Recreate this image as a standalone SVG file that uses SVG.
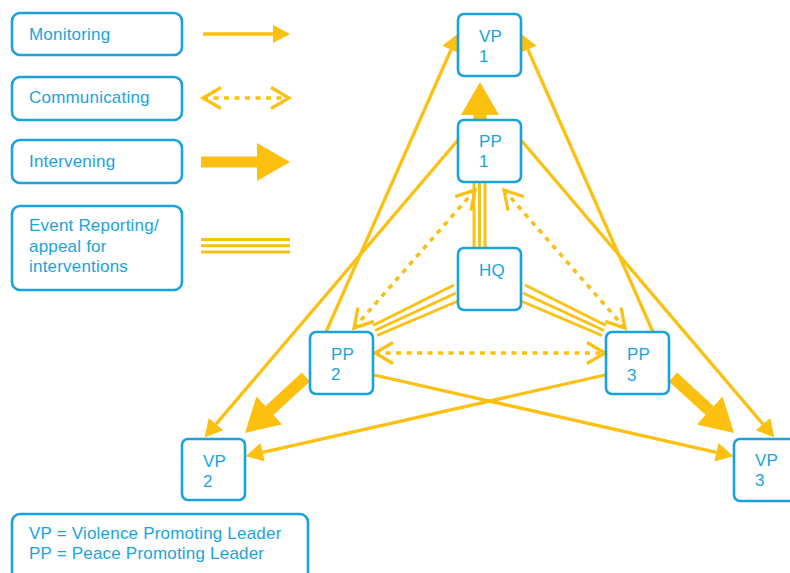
<svg xmlns="http://www.w3.org/2000/svg" width="790" height="573" viewBox="0 0 790 573">
<style>
  .box{fill:#fff;stroke:#18a2de;stroke-width:2.6}
  .lbl{font-family:"Liberation Sans",Arial,Helvetica,sans-serif;font-size:17px;fill:#1aa4df;letter-spacing:0.2px}
  .mon{fill:none;stroke:#fcc011;stroke-width:3.3}
  .com{fill:none;stroke:#fcc011;stroke-width:3.6;stroke-dasharray:5 5.5}
  .int{fill:none;stroke:#fcc011;stroke-width:13}
  .rep{fill:none;stroke:#fcc011;stroke-width:2.9}
  .y{fill:#fcc011}
</style>
<defs>
  <marker id="mh" markerUnits="userSpaceOnUse" viewBox="0 -10 18 20" markerWidth="18" markerHeight="20" refX="0" refY="0" orient="auto" overflow="visible">
    <path d="M0,-9.5 L17.5,0 L0,9.5 Z" fill="#fcc011"/>
  </marker>
  <marker id="ih" markerUnits="userSpaceOnUse" viewBox="0 -20 34 40" markerWidth="34" markerHeight="40" refX="0" refY="0" orient="auto" overflow="visible">
    <path d="M0,-19 L33,0 L0,19 Z" fill="#fcc011"/>
  </marker>
  <marker id="ch" markerUnits="userSpaceOnUse" viewBox="-20 -12 22 24" markerWidth="22" markerHeight="24" refX="0" refY="0" orient="auto-start-reverse" overflow="visible">
    <path d="M-18,-10.5 L0,0 L-18,10.5" fill="none" stroke="#fcc011" stroke-width="3.2"/>
  </marker>
</defs>

<g id="legend">
  <g id="leg-monitoring">
    <rect class="box" x="12" y="13" width="170" height="42" rx="8"/>
    <text class="lbl" x="29" y="40">Monitoring</text>
    <line class="mon" x1="203" y1="34" x2="274" y2="34"/>
    <path class="y" d="M273,25 L290,34 L273,43 Z"/>
  </g>
  <g id="leg-communicating">
    <rect class="box" x="12" y="77" width="170" height="43" rx="8"/>
    <text class="lbl" x="29" y="103">Communicating</text>
    <line class="com" x1="203" y1="98" x2="289" y2="98" marker-start="url(#ch)" marker-end="url(#ch)"/>
  </g>
  <g id="leg-intervening">
    <rect class="box" x="12" y="140" width="170" height="43" rx="8"/>
    <text class="lbl" x="29" y="167">Intervening</text>
    <line class="int" style="stroke-width:11" x1="201" y1="162" x2="258" y2="162"/>
    <path class="y" d="M257,143 L290,162 L257,181 Z"/>
  </g>
  <g id="leg-reporting">
    <rect class="box" x="12" y="206" width="170" height="84" rx="8"/>
    <text class="lbl" x="29" y="231">Event Reporting/</text>
    <text class="lbl" x="29" y="252">appeal for</text>
    <text class="lbl" x="29" y="272">interventions</text>
    <line class="rep" x1="201" y1="239.5" x2="290" y2="239.5"/>
    <line class="rep" x1="201" y1="245.8" x2="290" y2="245.8"/>
    <line class="rep" x1="201" y1="252" x2="290" y2="252"/>
  </g>
  <g id="leg-key">
    <rect class="box" x="12" y="514" width="296" height="80" rx="8"/>
    <text class="lbl" x="29" y="539">VP = Violence Promoting Leader</text>
    <text class="lbl" x="29" y="559">PP = Peace Promoting Leader</text>
  </g>
</g>

<g id="connectors">
  <!-- monitoring -->
  <line class="mon" x1="326" y1="332" x2="451.1" y2="49.5" marker-end="url(#mh)"/>
  <line class="mon" x1="653" y1="332" x2="527.9" y2="49.5" marker-end="url(#mh)"/>
  <line class="mon" x1="458" y1="140" x2="216" y2="424.1" marker-end="url(#mh)"/>
  <line class="mon" x1="521" y1="140" x2="763" y2="424.1" marker-end="url(#mh)"/>
  <line class="mon" x1="374" y1="375" x2="716.4" y2="452.3" marker-end="url(#mh)"/>
  <line class="mon" x1="605" y1="375" x2="262.6" y2="452.3" marker-end="url(#mh)"/>
  <!-- intervening -->
  <line class="int" x1="480" y1="121" x2="480" y2="115" marker-end="url(#ih)"/>
  <line class="int" style="stroke-width:12" x1="306" y1="377" x2="269.3" y2="410.6" marker-end="url(#ih)"/>
  <line class="int" style="stroke-width:12" x1="673" y1="377" x2="709.7" y2="410.6" marker-end="url(#ih)"/>
  <!-- event reporting -->
  <line class="rep" x1="474" y1="182" x2="474" y2="249"/>
  <line class="rep" x1="479.5" y1="182" x2="479.5" y2="249"/>
  <line class="rep" x1="485" y1="182" x2="485" y2="249"/>
  <line class="rep" x1="373" y1="325.5" x2="454" y2="285"/>
  <line class="rep" x1="375" y1="330.5" x2="456" y2="293"/>
  <line class="rep" x1="377" y1="335.5" x2="458" y2="301"/>
  <line class="rep" x1="606" y1="325.5" x2="525" y2="285"/>
  <line class="rep" x1="604" y1="330.5" x2="523" y2="293"/>
  <line class="rep" x1="602" y1="335.5" x2="521" y2="301"/>
  <!-- communicating -->
  <line class="com" x1="375" y1="353" x2="605" y2="353" marker-start="url(#ch)" marker-end="url(#ch)"/>
  <line class="com" x1="475" y1="190" x2="354" y2="328" marker-start="url(#ch)" marker-end="url(#ch)"/>
  <line class="com" x1="504" y1="190" x2="625" y2="328" marker-start="url(#ch)" marker-end="url(#ch)"/>
</g>

<g id="VP1"><rect class="box" x="458" y="14" width="63" height="62" rx="6"/><text class="lbl" x="479" y="42">VP</text><text class="lbl" x="479" y="62">1</text></g>
<g id="PP1"><rect class="box" x="458" y="120" width="63" height="62" rx="6"/><text class="lbl" x="479" y="147">PP</text><text class="lbl" x="479" y="167">1</text></g>
<g id="HQ"><rect class="box" x="458" y="248" width="63" height="62" rx="6"/><text class="lbl" x="479" y="276">HQ</text></g>
<g id="PP2"><rect class="box" x="310" y="332" width="63" height="62" rx="6"/><text class="lbl" x="331" y="359.5">PP</text><text class="lbl" x="331" y="380">2</text></g>
<g id="PP3"><rect class="box" x="606" y="332" width="63" height="62" rx="6"/><text class="lbl" x="627" y="360">PP</text><text class="lbl" x="627" y="380.5">3</text></g>
<g id="VP2"><rect class="box" x="182" y="439" width="63" height="61" rx="6"/><text class="lbl" x="203" y="466.5">VP</text><text class="lbl" x="203" y="486.5">2</text></g>
<g id="VP3"><rect class="box" x="734" y="439" width="63" height="62" rx="6"/><text class="lbl" x="755" y="466">VP</text><text class="lbl" x="755" y="486">3</text></g>
</svg>
